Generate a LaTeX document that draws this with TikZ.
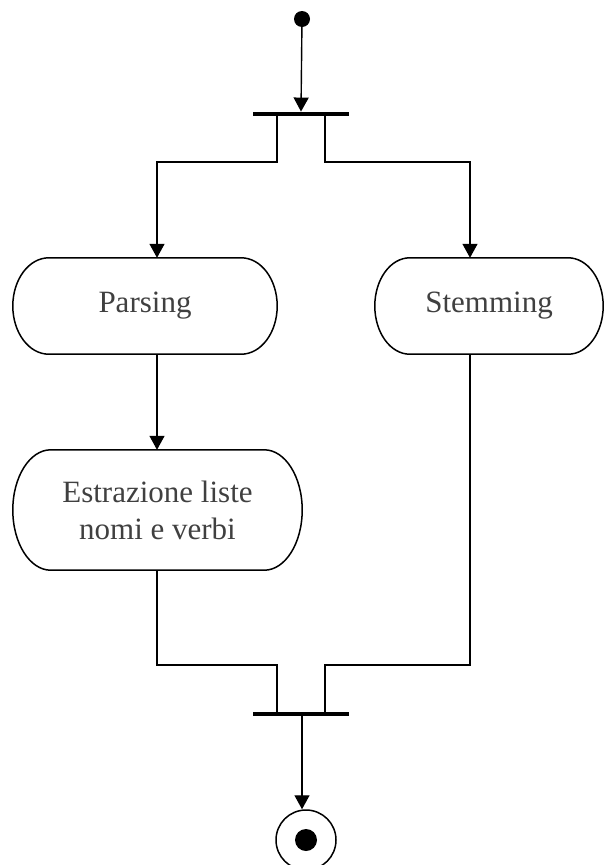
\documentclass[tikz,border=0pt]{standalone}
\usepackage{fontspec}
\setmainfont{Liberation Serif}
\usetikzlibrary{arrows.meta,calc}

\tikzset{
  flow/.style={line width=1.4pt, draw=black},
  arrowed/.style={flow, -{Triangle[length=14pt,width=15pt]}},
  pillline/.style={line width=1.5pt, draw=black},
  activity/.style={rectangle, draw=none, inner sep=0pt,
    text=black!75, font=\fontsize{31}{37}\selectfont, align=center},
  syncbar/.style={rectangle, fill=black, draw=none, inner sep=0pt,
    minimum width=96pt, minimum height=4.5pt},
  startdot/.style={circle, fill=black, inner sep=0pt, minimum size=16pt},
}

\begin{document}
\begin{tikzpicture}[x=1pt,y=1pt]
  \useasboundingbox (0,0) rectangle (604,-865);

  % initial and final states, fork and join bars
  \node[startdot] (start) at (302,-19) {};
  \node[syncbar] (fork) at (301,-114) {};
  \node[syncbar] (join) at (301,-714) {};
  \node[circle, draw=black, line width=1.5pt, minimum size=60pt, inner sep=0pt] (final) at (306,-840) {};
  \node[circle, fill=black, minimum size=22pt, inner sep=0pt] (finaldot) at (final.center) {};

  % activities
  \node[activity, minimum width=264pt, minimum height=96pt] (parsing) at (145,-306) {Parsing};
  \node[activity, minimum width=228pt, minimum height=96pt] (stem) at (489,-306) {Stemming};
  \node[activity, minimum width=289pt, minimum height=120pt] (estr) at (157.5,-510) {Estrazione liste\\nomi e verbi};

  % pill outlines with elliptical ends
  \foreach \nm/\d in {parsing/36, stem/35, estr/38} {
    \draw[pillline] let \p1=(\nm.north west), \p2=(\nm.south east) in
      (\x1+\d pt,\y1) -- (\x2-\d pt,\y1)
      arc[start angle=90, end angle=-90, x radius=\d pt, y radius={(\y1-\y2)/2}]
      -- (\x1+\d pt,\y2)
      arc[start angle=270, end angle=90, x radius=\d pt, y radius={(\y1-\y2)/2}]
      -- cycle;
  }

  % routing points
  \coordinate (fL) at (277,-162);
  \coordinate (fR) at (325,-162);
  \coordinate (aL) at (157,-162);
  \coordinate (aR) at (470,-162);
  \coordinate (jL) at (277,-665);
  \coordinate (jR) at (325,-665);
  \coordinate (bL) at (157,-665);
  \coordinate (bR) at (470,-665);

  % connectors
  \draw[arrowed] (start) -- (fork.north);
  \draw[arrowed] (fork.south -| fL) -- (fL) -- (aL) -- (parsing.north -| aL);
  \draw[arrowed] (fork.south -| fR) -- (fR) -- (aR) -- (stem.north -| aR);
  \draw[arrowed] (parsing.south -| aL) -- (estr.north -| aL);
  \draw[flow] (estr.south -| bL) -- (bL) -- (jL) -- (join.north -| jL);
  \draw[flow] (stem.south -| bR) -- (bR) -- (jR) -- (join.north -| jR);
  \draw[arrowed] (join.south -| start) -- (final.north -| start);
\end{tikzpicture}
\end{document}
